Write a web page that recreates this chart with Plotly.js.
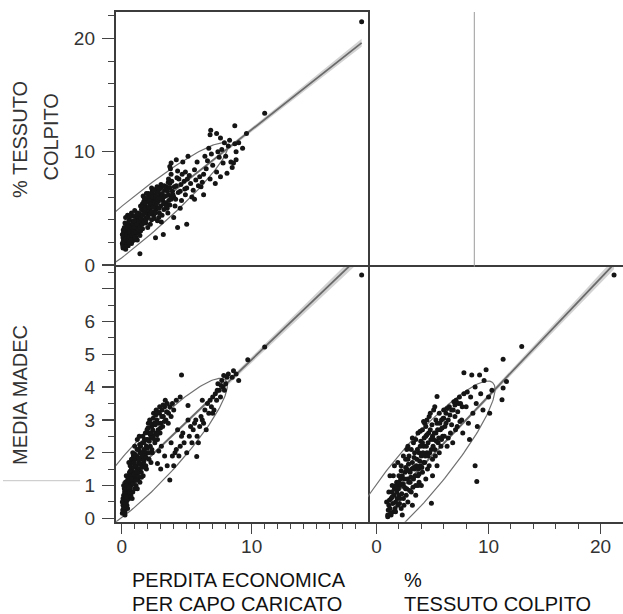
<!DOCTYPE html>
<html><head><meta charset="utf-8">
<script src="https://cdn.plot.ly/plotly-3.0.1.min.js"></script>
<style>html,body{margin:0;padding:0;background:#fff}#chart{width:623px;height:614px}</style>
</head><body><div id="chart"></div>
<script>
// Panel 1 (top-left): PERDITA ECONOMICA (x) vs % TESSUTO COLPITO (y)
const tl_perdita = [
0.1,0.2,0.3,0.15,0.4,0.5,0.25,0.6,0.35,0.7, 0.8,0.45,0.9,0.55,1.0,0.65,1.1,0.2,0.75,1.2,
0.3,0.85,1.3,0.4,1.0,1.4,0.6,1.15,0.5,0.95, 1.25,0.7,1.45,0.1,0.35,0.8,1.05,1.35,0.6,0.9,
1.5,0.25,1.2,0.45,1.1,0.75,1.55,0.15,0.55,1.3, 0.95,1.6,0.05,0.65,1.4,1.0,0.3,1.7,0.85,1.25,
1.6,1.8,2.0,1.7,2.2,1.9,2.4,2.1,2.6,1.65, 2.3,2.8,2.0,2.5,1.85,3.0,2.7,2.2,3.2,2.9,
1.75,2.35,3.1,2.55,3.4,2.05,2.75,3.3,1.95,2.45, 3.5,2.15,2.65,3.0,2.85,3.6,2.4,1.6,3.15,2.3,
3.7,2.9,2.1,3.45,2.6,3.8,2.0,2.75,3.25,1.9, 3.55,2.5,3.9,2.25,3.05,
4.0,4.2,3.7,4.5,4.8,4.1,5.0,4.4,5.3,3.8, 3.75,3.8,3.7,4.6,5.5,5.2,4.9,5.7,4.3,5.9,
6.0,4.7,4.2,5.1,5.6,4.5,5.4,3.6,4.9,6.2,
6.3,6.5,6.8,7.0,6.6,7.3,7.5,7.8,6.9,7.7, 8.0,8.2,8.4,7.2,6.1,8.1,8.5,8.8,8.8,8.6,
7.6,6.4,7.9,8.3,6.7,5.8,7.4,8.7,
6.8,6.85,7.3,7.6,8.7,9.6,11.0,18.46,1.4,3.2, 4.3,5.0,2.6,4.0,5.6,6.3,9.3,9.0,
0.08,0.12,0.18,0.22,0.28,0.33,0.38,0.42,0.48,0.52, 0.58,0.62,0.68,0.72,0.78,0.82,0.88,0.92,0.98,1.02,
1.08,1.12,1.18,1.22,1.28,1.32,1.38,1.42,1.48,1.52, 1.58,1.62,1.68,1.72,1.78,1.82,1.88,1.92,1.98,2.02,
2.08,2.12,2.18,2.22,2.28,2.32,2.38,2.42,2.48,2.52, 2.58,2.62,2.68,2.72,2.78,2.82,2.88,2.92,2.98,3.02,
3.12,3.22,3.28,3.38,3.42,3.52,3.58,3.62,3.72,3.78, 3.85,3.95,4.05,4.15,4.25,4.35,4.55,4.65,4.85,5.05,
0.05,0.12,0.45,0.65,0.28,0.55,0.95,1.15,1.45,1.75];
const tl_tessuto = [
1.5,1.8,1.4,2.2,2.0,1.7,2.6,2.3,3.0,2.8, 2.1,2.4,2.6,3.2,3.0,3.5,2.4,3.3,1.9,3.3,
2.9,3.8,2.8,3.6,3.6,3.5,4.0,4.1,2.7,2.2, 3.9,3.1,3.0,2.4,1.9,3.4,2.7,4.2,2.0,4.3,
3.8,3.7,2.2,4.4,3.2,4.6,4.4,2.9,3.9,3.6, 3.1,3.2,1.9,2.6,2.6,4.8,4.2,4.0,2.5,4.6,
4.8,5.2,4.5,5.6,5.0,4.2,5.4,6.0,4.8,6.1, 4.0,5.6,5.6,6.2,3.7,5.2,6.4,3.6,6.0,4.6,
5.9,6.5,4.4,5.8,5.5,6.3,5.0,6.6,5.0,4.4, 5.0,5.3,6.7,6.8,4.2,6.2,5.9,5.4,5.7,6.8,
5.3,6.1,4.8,6.9,5.2,5.8,3.3,3.9,4.9,6.3, 4.6,4.1,6.5,5.7,3.8,
6.0,7.0,7.2,6.5,7.4,5.2,6.8,7.6,7.2,8.0, 8.5,9.0,8.7,5.7,6.6,7.9,8.2,7.5,8.3,7.0,
7.8,9.1,9.3,9.6,8.4,5.0,6.0,7.6,6.2,7.3,
8.0,8.5,7.6,8.8,9.2,8.2,9.5,9.0,9.8,10.2, 9.6,10.5,9.1,7.2,6.9,8.1,8.6,10.0,9.3,9.0,
7.8,9.6,10.8,11.0,10.3,9.1,10.0,10.7,
11.5,11.9,11.6,11.2,12.3,11.6,13.4,21.47,1.0,2.7, 3.3,3.6,2.4,4.2,5.8,6.2,10.3,10.8,
1.7,2.1,1.6,2.5,2.0,2.3,2.7,1.8,2.2,3.0, 2.5,2.9,2.2,3.3,2.6,3.0,3.6,2.9,3.3,2.5,
3.8,2.9,3.6,4.3,3.1,3.9,4.5,3.3,4.1,4.9, 3.6,4.4,5.1,3.8,4.6,5.5,4.0,4.8,5.9,4.2,
5.1,5.7,4.5,6.2,5.4,4.7,6.0,5.1,6.6,5.5, 4.6,6.0,5.4,6.9,5.8,6.4,5.0,6.7,5.9,7.1,
6.3,5.4,7.0,6.1,5.2,6.5,7.3,5.7,6.8,6.0, 7.4,6.2,6.9,5.8,7.7,6.4,7.1,8.0,6.7,7.6,
2.7,3.1,3.4,4.3,1.6,2.0,3.9,4.5,5.2,4.9];

// Panel 2 (bottom-left): PERDITA ECONOMICA (x) vs MEDIA MADEC (y)
const bl_perdita = [
0.05,0.1,0.2,0.15,0.3,0.25,0.4,0.35,0.5,0.45, 0.6,0.55,0.7,0.65,0.8,0.75,0.9,0.85,1.0,0.95,
1.1,1.05,1.2,1.15,1.3,1.25,1.4,1.35,1.5,1.45, 1.6,1.55,1.7,1.65,1.8,1.75,1.9,1.85,2.0,0.2,
0.4,0.6,0.8,1.0,0.3,0.5,0.7,0.9,1.1,1.3, 1.2,0.1,0.35,0.55,0.75,1.5,1.6,1.4,0.15,0.45,
0.65,0.85,1.0,1.2,0.25,0.05,1.35,1.7,1.9,2.1,
2.0,2.1,2.2,2.3,2.2,2.4,2.5,2.35,2.6,2.7, 2.55,2.8,2.9,2.75,3.0,3.1,2.95,3.2,3.3,3.15,
3.4,3.5,3.6,3.35,3.7,3.8,3.9,4.0,4.2,4.5, 4.6,5.1,2.45,2.65,2.05,2.25,2.85,3.05,2.15,1.95,
2.75,3.7,3.0,3.5,3.9,4.2,4.0,4.5,4.4,4.8, 5.0,5.2,4.7,5.4,5.5,5.77,5.8,5.6,6.0,6.1,
5.9,6.3,6.4,6.5,6.7,6.6,6.9,7.0,7.1,7.2, 7.3,7.5,7.4,7.6,7.8,7.7,7.9,8.0,7.85,8.1,
8.5,8.6,8.8,9.0,9.7,11.0,18.46,4.3,5.1,3.3, 3.8,6.2,
0.08,0.12,0.18,0.22,0.28,0.32,0.38,0.42,0.48,0.52, 0.58,0.62,0.68,0.72,0.78,0.82,0.88,0.92,0.98,1.02,
1.08,1.12,1.18,1.22,1.28,1.32,1.38,1.42,1.48,1.52, 1.58,1.62,1.68,1.72,1.78,1.82,1.88,1.92,1.98,2.02,
2.08,2.12,2.18,2.28,2.32,2.38,2.42,2.52,2.58,2.62, 2.72,2.78,2.82,2.92,2.98,3.08,3.18,3.28,3.45,3.58,
0.15,0.35,0.55,0.75,0.95,1.15,1.35,1.55,1.75,2.25, 4.1,4.6,5.3,5.7,6.2,6.8,7.0,7.35,7.65,8.2];
const bl_madec = [
0.15,0.4,0.3,0.7,0.6,0.2,0.9,0.5,0.8,1.1, 1.0,0.6,1.3,0.9,1.1,1.5,1.4,0.8,1.6,1.2,
1.3,1.8,1.5,1.9,1.7,1.2,2.0,1.4,1.8,2.2, 1.6,2.0,2.1,1.3,1.9,2.4,2.2,1.6,2.0,0.9,
0.4,1.4,0.6,0.9,1.1,1.3,0.7,1.9,1.0,2.1, 0.9,0.6,1.3,1.7,1.8,1.4,2.3,1.1,1.0,0.3,
1.6,2.0,2.2,2.4,0.1,0.5,2.5,1.8,1.5,1.8,
2.4,2.6,2.2,2.8,2.55,2.5,2.9,2.0,2.6,3.0, 2.3,2.7,3.2,2.4,2.9,3.3,2.6,3.1,3.4,2.8,
3.0,3.5,3.2,3.6,3.4,3.1,3.5,3.3,3.6,3.7, 4.37,3.44,3.2,3.3,2.9,1.7,2.05,2.2,3.0,2.7,
1.67,1.17,1.5,1.6,1.9,2.1,1.6,2.2,1.9,2.3, 2.0,2.5,2.6,2.3,2.7,1.88,2.5,2.9,2.8,3.1,
2.3,2.9,3.3,2.7,3.2,3.5,3.4,3.7,3.3,3.8, 3.6,3.9,4.1,3.7,4.0,4.2,3.9,4.1,4.35,4.3,
4.3,4.5,4.4,4.2,4.83,5.22,7.42,2.7,3.0,1.9, 2.3,3.6,
0.25,0.55,0.2,0.8,0.45,0.75,1.0,0.55,1.2,0.7, 1.15,0.8,1.45,1.0,1.3,1.7,1.05,1.55,1.35,1.95,
1.15,1.6,2.1,1.3,1.85,1.5,2.25,1.65,2.0,1.25, 1.9,2.5,1.7,2.3,2.0,2.6,1.85,2.4,2.15,2.75,
2.0,2.35,2.9,2.45,2.1,2.7,3.05,2.4,2.85,3.15, 2.55,3.25,2.9,3.4,2.75,3.1,3.45,2.95,3.25,2.9,
0.35,0.65,0.95,1.2,1.7,1.4,1.8,1.55,2.05,2.6, 2.0,2.5,2.8,3.0,3.0,3.6,3.2,3.9,4.05,4.4];

// Panel 3 (bottom-right): % TESSUTO COLPITO (x) vs MEDIA MADEC (y)
const br_tessuto = [
1.0,1.2,1.5,1.3,1.7,1.1,1.9,1.6,2.0,2.2, 1.8,2.4,2.1,2.6,2.3,2.8,2.5,1.4,2.9,2.7,
3.1,3.0,2.2,3.3,3.2,2.6,3.5,3.4,2.9,3.7, 3.6,3.1,3.9,3.8,3.3,4.1,4.0,3.5,4.3,4.2,
3.7,4.5,4.4,3.9,4.7,4.6,4.1,4.9,4.8,4.3, 5.1,5.0,4.5,5.3,5.2,4.7,5.5,5.4,5.7,5.6,
5.9,5.8,6.1,6.0,6.3,2.0,2.4,2.8,1.5,1.9, 3.2,3.9,2.7,3.8,4.4,5.0,5.4,1.2,1.6,2.7,
3.5,4.0,4.9,1.0,0.9,1.3,1.7,2.3,3.2,2.2, 2.8,4.4,4.8,4.2,5.2,5.4,5.1,5.6,
6.2,6.4,6.5,6.7,6.6,6.9,7.0,7.1,7.3,7.2, 7.5,7.4,7.6,7.8,7.8,8.0,8.1,8.2,8.4,8.5,
8.6,8.8,8.9,9.0,9.2,9.3,9.5,9.6,9.78,10.0, 10.1,10.3,8.8,8.95,11.2,11.3,11.6,11.3,12.96,21.2,
6.8,7.7,8.3,6.0,6.3,7.0,
1.05,1.15,1.25,1.35,1.45,1.55,1.65,1.75,1.85,1.95, 2.05,2.15,2.25,2.35,2.45,2.55,2.65,2.75,2.85,2.95,
3.05,3.15,3.25,3.35,3.45,3.55,3.65,3.75,3.85,3.95, 4.05,4.15,4.25,4.35,4.45,4.55,4.65,4.75,4.85,4.95,
5.05,5.15,5.25,5.35,5.45,5.55,5.65,5.75,5.85,5.95, 6.05,6.2,6.4,6.55,6.7,6.85,7.05,7.25,7.45,7.65,
1.1,1.4,1.8,2.1,2.5,2.9,3.3,3.7,4.1,4.5, 2.0,2.6,3.0,3.4,3.8,4.2,4.6,5.0,5.3,5.8];
const br_madec = [
0.1,0.3,0.2,0.6,0.5,0.8,0.4,0.9,0.7,0.3, 1.1,0.6,1.0,0.9,1.3,0.5,1.2,1.0,1.1,1.5,
0.8,1.4,1.6,1.2,1.7,1.8,1.0,1.5,1.9,1.3, 1.8,2.1,1.6,2.0,2.3,1.4,1.9,2.4,1.7,2.2,
2.6,2.0,2.5,2.2,1.6,2.3,2.7,2.1,2.7,2.9, 2.4,1.8,3.0,2.6,2.1,3.1,2.3,2.9,2.7,3.2,
2.5,3.0,2.8,3.3,2.2,1.3,1.9,2.2,1.3,1.7, 2.45,2.65,2.1,1.1,1.2,1.3,1.6,1.3,1.6,0.9,
0.7,1.0,0.46,0.05,0.5,0.1,0.2,0.1,0.4,1.45, 1.8,2.8,3.2,2.95,3.4,3.71,3.3,2.0,
3.2,3.0,3.4,3.3,2.6,3.55,3.1,3.6,3.5,2.8, 3.5,3.7,3.0,3.8,4.44,3.4,3.85,2.9,3.7,4.37,
3.2,4.0,3.5,2.8,4.37,3.8,3.3,4.2,4.53,3.7, 3.2,3.9,1.6,1.12,3.61,3.97,4.17,4.85,5.24,7.42,
2.3,2.6,2.4,3.05,3.35,3.45,
0.25,0.55,0.15,0.8,0.45,0.7,0.3,1.0,0.6,0.9, 0.45,1.2,0.75,1.05,0.4,1.4,0.7,1.2,1.65,0.85,
1.25,1.5,0.95,1.85,1.3,1.6,2.1,1.5,1.75,2.35, 1.55,2.0,2.45,1.9,2.2,1.5,2.6,2.0,2.4,2.85,
2.2,2.6,1.9,2.35,2.7,2.45,2.9,2.2,2.75,3.05, 2.5,2.9,2.45,3.15,2.85,3.3,2.7,3.25,2.95,3.4,
0.4,0.65,0.8,0.6,0.95,1.45,1.55,1.0,2.3,2.55, 1.1,1.55,1.1,2.0,1.35,1.7,1.9,2.5,3.0,2.4];

// Fitted lines: [top-left, bottom-left, bottom-right]
const fitSlope = [0.905, 0.379, 0.36];
const fitIntercept = [2.9, 1.05, 0.12];
// Confidence band: half-width at mean, mean of x, spread scale
const bandHalf = [0.08, 0.03, 0.03];
const bandMean = [3.0, 2.5, 4.0];
const bandScale = [3.6, 2.96, 3.27];
// Density ellipses: centre and two conjugate semi-axis vectors (data units)
const ellCx = [0.83, 2.42, 3.76];
const ellCy = [3.67, 1.855, 1.45];
const ellAx = [7.25, 5.56, 6.6];
const ellAy = [6.98, 2.365, 2.69];
const ellBx = [0.99, 1.29, 1.71];
const ellBy = [-1.35, -0.479, -0.49];

// Tick labels
const tlYTicks = [0, 10, 20];
const madecTickVals = [0, 1, 2, 3, 4, 5, 6, 7];
const madecTickText = ['0', '1', '2', '3', '4', '5', '6', ''];
const perditaTicks = [0, 10];
const tessutoTicks = [0, 10, 20];

const panels = [
  {x: tl_perdita, y: tl_tessuto, xa: 'x', ya: 'y'},
  {x: bl_perdita, y: bl_madec, xa: 'x2', ya: 'y2'},
  {x: br_tessuto, y: br_madec, xa: 'x3', ya: 'y3'}
];

const traces = [];
panels.forEach((p, k) => {
  const xmin = Math.min(...p.x), xmax = Math.max(...p.x);
  const n = 80;
  const xs = [], lo = [], hi = [], ly = [];
  for (let i = 0; i <= n; i++) {
    const xv = xmin + (xmax - xmin) * i / n;
    const yv = fitIntercept[k] + fitSlope[k] * xv;
    const w = bandHalf[k] * Math.sqrt(1 + Math.pow((xv - bandMean[k]) / bandScale[k], 2));
    xs.push(xv); ly.push(yv); lo.push(yv - w); hi.push(yv + w);
  }
  traces.push({type: 'scatter', mode: 'lines', xaxis: p.xa, yaxis: p.ya,
    x: xs.concat(xs.slice().reverse()), y: hi.concat(lo.slice().reverse()),
    fill: 'toself', fillcolor: 'rgba(175,175,175,0.55)', line: {width: 0}, hoverinfo: 'skip'});
  traces.push({type: 'scatter', mode: 'lines', xaxis: p.xa, yaxis: p.ya,
    x: xs, y: ly, line: {color: '#6a6a6a', width: 1.8}});
  const ex = [], ey = [];
  for (let i = 0; i <= 200; i++) {
    const t = 2 * Math.PI * i / 200;
    ex.push(ellCx[k] + ellAx[k] * Math.cos(t) + ellBx[k] * Math.sin(t));
    ey.push(ellCy[k] + ellAy[k] * Math.cos(t) + ellBy[k] * Math.sin(t));
  }
  traces.push({type: 'scatter', mode: 'lines', xaxis: p.xa, yaxis: p.ya,
    x: ex, y: ey, line: {color: '#707070', width: 1.2}});
  traces.push({type: 'scatter', mode: 'markers', xaxis: p.xa, yaxis: p.ya,
    x: p.x, y: p.y, marker: {size: 5, color: '#151515'}, cliponaxis: true});
});

const tickFont = {family: 'Liberation Sans, Arial, sans-serif', size: 19, color: '#333'};
const frame = {showline: true, linecolor: '#3c3c3c', linewidth: 2.2, showgrid: false, zeroline: false};
const W = 623, H = 614;
const colL = [116 / W, 368 / W], colR = [368 / W, 1];
const rowT = [1 - 266.7 / H, 1 - 12 / H], rowB = [1 - 521.7 / H, 1 - 266.7 / H];
const minorStyle = {tickmode: 'linear', tick0: 0, ticks: 'outside', tickcolor: '#444', tickwidth: 1};

const layout = {
  width: W, height: H, margin: {l: 0, r: 0, t: 0, b: 0},
  paper_bgcolor: '#fff', plot_bgcolor: '#fff', showlegend: false,
  font: {family: 'Liberation Sans, Arial, sans-serif', color: '#333'},
  xaxis: Object.assign({}, frame, {domain: colL, range: [-0.44, 18.95], anchor: 'y', side: 'top', mirror: false,
    ticks: '', showticklabels: false}),
  yaxis: Object.assign({}, frame, {domain: rowT, range: [-0.15, 22.33], anchor: 'x', mirror: true,
    tickmode: 'array', tickvals: tlYTicks, ticks: 'outside', ticklen: 12, tickcolor: '#444', tickwidth: 1.3,
    ticklabelstandoff: 3,
    minor: Object.assign({dtick: 2, ticklen: 6}, minorStyle), tickfont: tickFont}),
  xaxis2: Object.assign({}, frame, {domain: colL, range: [-0.44, 18.95], anchor: 'y2', mirror: true,
    tickmode: 'array', tickvals: perditaTicks, ticks: 'outside', ticklen: 10, tickcolor: '#444', tickwidth: 1.3,
    ticklabelstandoff: -4,
    minor: Object.assign({dtick: 1, ticklen: 5}, minorStyle), tickfont: tickFont}),
  yaxis2: Object.assign({}, frame, {domain: rowB, range: [-0.104, 7.67], anchor: 'x2', mirror: true,
    tickmode: 'array', tickvals: madecTickVals, ticktext: madecTickText, ticks: 'outside', ticklen: 12, tickcolor: '#444', tickwidth: 1.3,
    ticklabelstandoff: 3,
    minor: Object.assign({dtick: 0.5, ticklen: 6}, minorStyle), tickfont: tickFont}),
  xaxis3: Object.assign({}, frame, {domain: colR, range: [-0.76, 22.0], anchor: 'y3', mirror: true,
    tickmode: 'array', tickvals: tessutoTicks, ticks: 'outside', ticklen: 10, tickcolor: '#444', tickwidth: 1.3,
    ticklabelstandoff: -4,
    minor: Object.assign({dtick: 2, ticklen: 5}, minorStyle), tickfont: tickFont}),
  yaxis3: Object.assign({}, frame, {domain: rowB, range: [-0.104, 7.67], anchor: 'x3', showline: false, mirror: false,
    ticks: '', showticklabels: false}),
  shapes: [
    {type: 'line', xref: 'paper', yref: 'paper', x0: 474.3 / W, x1: 474.3 / W, y0: rowT[0], y1: rowT[1],
      line: {color: '#9a9a9a', width: 1}},
    {type: 'line', xref: 'paper', yref: 'paper', x0: 3 / W, x1: 80 / W, y0: 1 - 480.7 / H, y1: 1 - 480.7 / H,
      line: {color: '#c4c4c4', width: 1}}
  ],
  annotations: [
    {text: '% TESSUTO', xref: 'paper', yref: 'paper', x: 20 / W, y: 1 - 140 / H, textangle: -90,
      showarrow: false, xanchor: 'center', yanchor: 'middle', font: {size: 20, color: '#333'}},
    {text: 'COLPITO', xref: 'paper', yref: 'paper', x: 50 / W, y: 1 - 137.5 / H, textangle: -90,
      showarrow: false, xanchor: 'center', yanchor: 'middle', font: {size: 20, color: '#333'}},
    {text: 'MEDIA MADEC', xref: 'paper', yref: 'paper', x: 20 / W, y: 1 - 395 / H, textangle: -90,
      showarrow: false, xanchor: 'center', yanchor: 'middle', font: {size: 20, color: '#333'}},
    {text: 'PERDITA ECONOMICA', xref: 'paper', yref: 'paper', x: 130 / W, y: 1 - 580 / H,
      showarrow: false, xanchor: 'left', yanchor: 'middle', font: {size: 20, color: '#111'}},
    {text: 'PER CAPO CARICATO', xref: 'paper', yref: 'paper', x: 130 / W, y: 1 - 603.5 / H,
      showarrow: false, xanchor: 'left', yanchor: 'middle', font: {size: 20, color: '#111'}},
    {text: '%', xref: 'paper', yref: 'paper', x: 401.7 / W, y: 1 - 580 / H,
      showarrow: false, xanchor: 'left', yanchor: 'middle', font: {size: 20, color: '#111'}},
    {text: 'TESSUTO COLPITO', xref: 'paper', yref: 'paper', x: 401.7 / W, y: 1 - 603.5 / H,
      showarrow: false, xanchor: 'left', yanchor: 'middle', font: {size: 20, color: '#111'}}
  ]
};

Plotly.newPlot('chart', traces, layout, {displayModeBar: false, staticPlot: true});
</script>
</body></html>
